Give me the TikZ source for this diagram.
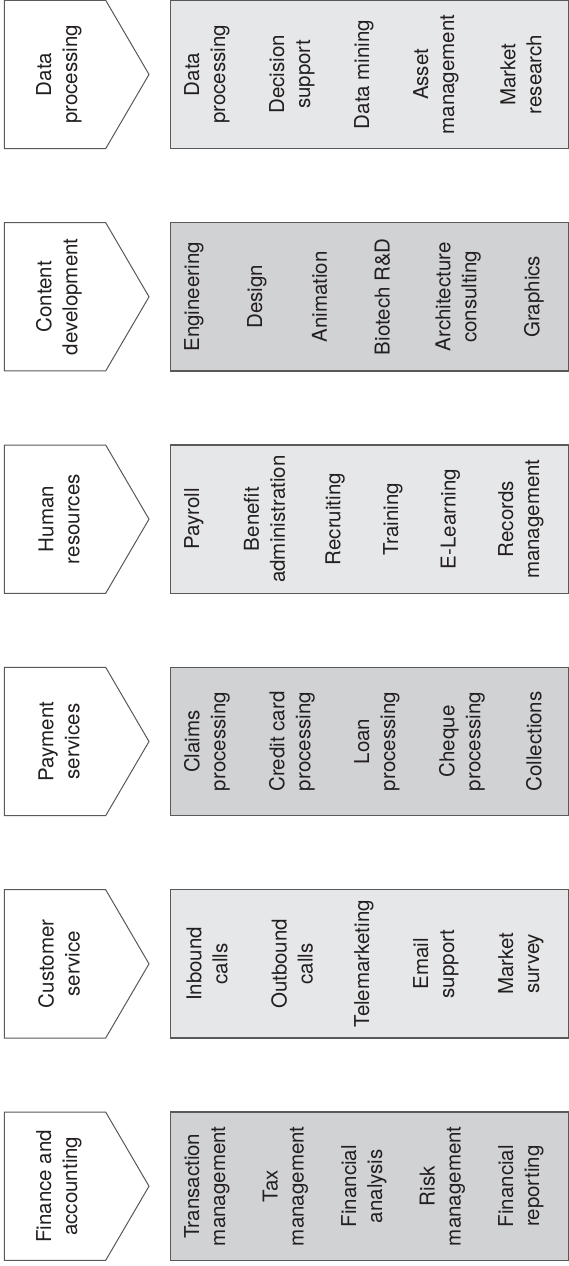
\documentclass[tikz,border=0pt]{standalone}
\usepackage{fontspec}
\setmainfont{TeX Gyre Heros}
\definecolor{lightg}{HTML}{E6E7E8}
\definecolor{darkg}{HTML}{D1D2D4}
\definecolor{edgec}{HTML}{58595B}
\definecolor{txt}{HTML}{231F20}
\tikzset{
  pent/.style={draw=edgec, line width=1pt, fill=white, line join=miter},
  panel/.style={draw=edgec, line width=1.2pt},
  lbl/.style={rotate=90, align=center, text=txt, font=\fontsize{20.5}{26}\selectfont, inner sep=0pt},
}
\newcommand{\grp}[4]{%
  % #1 name, #2 top, #3 fill, #4 label
  \draw[pent] (4.3,#2) coordinate (#1a) -- (105.7,#2) -- (149,#2+74.15) coordinate (#1tip) -- (105.7,#2+148.3) -- (4.3,#2+148.3) -- cycle;
  \draw[panel, fill=#3] (170.7,#2) coordinate (#1p) rectangle (569,#2+148.3);
  \node[lbl] (#1lbl) at (59,#2+74.15) {#4};
}
\begin{document}
\begin{tikzpicture}[x=1pt,y=-1pt]
\useasboundingbox (0,0) rectangle (568,1266);

% Data processing
\grp{dp}{0.3}{lightg}{Data\\processing}
\node[lbl] (dp1) at (207,74.45) {Data\\processing};
\node[lbl] (dp2) at (292,74.45) {Decision\\support};
\node[lbl] (dp3) at (364,74.45) {Data mining};
\node[lbl] (dp4) at (436,74.45) {Asset\\management};
\node[lbl] (dp5) at (521,74.45) {Market\\research};

% Content development
\grp{cd}{222.65}{darkg}{Content\\development}
\node[lbl] (cd1) at (194,296.8) {Engineering};
\node[lbl] (cd2) at (256.8,296.8) {Design};
\node[lbl] (cd3) at (319.6,296.8) {Animation};
\node[lbl] (cd4) at (382.4,296.8) {Biotech R\&D};
\node[lbl] (cd5) at (458.2,296.8) {Architecture\\consulting};
\node[lbl] (cd6) at (534,296.8) {Graphics};

% Human resources
\grp{hr}{445}{lightg}{Human\\resources}
\node[lbl] (hr1) at (194,519.15) {Payroll};
\node[lbl] (hr2) at (264.6,519.15) {Benefit\\administration};
\node[lbl] (hr3) at (335.2,519.15) {Recruiting};
\node[lbl] (hr4) at (392.8,519.15) {Training};
\node[lbl] (hr5) at (450.4,519.15) {E-Learning};
\node[lbl] (hr6) at (521,519.15) {Records\\management};

% Payment services
\grp{ps}{667.35}{darkg}{Payment\\services}
\node[lbl] (ps1) at (207,741.5) {Claims\\processing};
\node[lbl] (ps2) at (292,741.5) {Credit card\\processing};
\node[lbl] (ps3) at (377,741.5) {Loan\\processing};
\node[lbl] (ps4) at (462,741.5) {Cheque\\processing};
\node[lbl] (ps5) at (534,741.5) {Collections};

% Customer service
\grp{cs}{889.7}{lightg}{Customer\\service}
\node[lbl] (cs1) at (207,963.85) {Inbound\\calls};
\node[lbl] (cs2) at (292,963.85) {Outbound\\calls};
\node[lbl] (cs3) at (364,963.85) {Telemarketing};
\node[lbl] (cs4) at (436,963.85) {Email\\support};
\node[lbl] (cs5) at (521,963.85) {Market\\survey};

% Finance and accounting
\grp{fa}{1112.05}{darkg}{Finance and\\accounting}
\node[lbl] (fa1) at (207,1186.2) {Transaction\\management};
\node[lbl] (fa2) at (285.5,1186.2) {Tax\\management};
\node[lbl] (fa3) at (364,1186.2) {Financial\\analysis};
\node[lbl] (fa4) at (442.5,1186.2) {Risk\\management};
\node[lbl] (fa5) at (521,1186.2) {Financial\\reporting};
\end{tikzpicture}
\end{document}
